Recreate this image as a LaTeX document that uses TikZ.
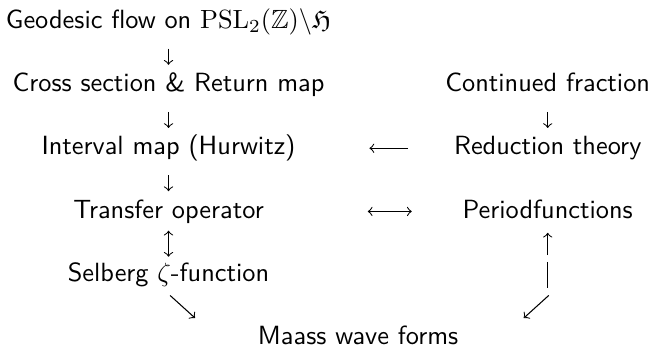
\documentclass[tikz,border=0pt]{standalone}
\usepackage{amssymb}

\begin{document}
\begin{tikzpicture}[x=1pt, y=-12pt,
    lbl/.style={font=\sffamily, inner sep=0pt, text height=7pt, text depth=2pt, anchor=base},
    arr/.style={->, >=to}]
          \def \colL {64}
          \def \colR {208}
          \def \colM {136}
          \useasboundingbox (0,-0.9) rectangle (248,10.1);

          % left column
          \node[lbl] (geo) at (\colL,0) {Geodesic flow on $\mathrm{PSL}_2(\mathbb{Z})\backslash\mathfrak{H}$};
          \node[lbl] (cross) at (\colL,2) {Cross section \& Return map};
          \node[lbl] (interval) at (\colL,4) {Interval map (Hurwitz)};
          \node[lbl] (transfer) at (\colL,6) {Transfer operator};
          \node[lbl] (selberg) at (\colL,8) {Selberg $\zeta$-function};

          % right column
          \node[lbl] (contfrac) at (\colR,2) {Continued fraction};
          \node[lbl] (reduction) at (\colR,4) {Reduction theory};
          \node[lbl] (period) at (\colR,6) {Periodfunctions};

          \node[lbl] (maass) at (\colM,10) {Maass wave forms};

          \coordinate (uptail) at (\colR,7.175);
          \coordinate (bartop) at (\colR,7.39);
          \coordinate (barbot) at (\colR,8.217);
          \coordinate (swtail) at (208.4,8.45);
          \coordinate (swtip) at (198.9,9.167);
          \coordinate (setail) at (64.6,8.45);
          \coordinate (setip) at (74.1,9.167);

          \foreach \a/\b in {geo/cross, cross/interval, interval/transfer, contfrac/reduction}
          {
            \draw[arr, shorten <=5.5pt, shorten >=3pt] (\a) -- (\b);
          }
          \draw[arr, <->, shorten <=2.6pt, shorten >=2.1pt] (transfer) -- (selberg);
          \draw[arr, shorten <=17.2pt, shorten >=27.9pt] (reduction) -- (interval);
          \draw[arr, <->, shorten <=39.3pt, shorten >=19.1pt] (transfer) -- (period);
          \draw[arr, shorten >=3.4pt] (uptail) -- (period);
          \draw (bartop) -- (barbot);
          \draw[arr] (swtail) -- (swtip);
          \draw[arr] (setail) -- (setip);
        \end{tikzpicture}
\end{document}
